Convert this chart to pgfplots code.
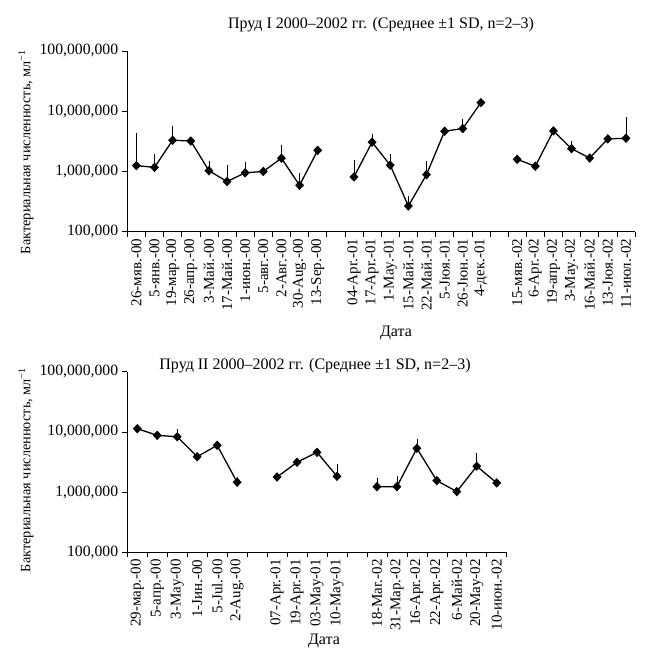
\documentclass[border=0pt]{standalone}
\usepackage{fontspec}
\setmainfont{Liberation Serif}
\usepackage{pgfplots}
\pgfplotsset{compat=1.18}
\pgfplotsset{
  every axis/.append style={
    scale only axis,
    yminorticks=false,
    axis lines=left, axis line style={-, line width=0.7bp},
    tick align=outside, major tick length=5bp,
    tick style={black, line width=0.6bp},
    xticklabel style={font=\fontsize{15bp}{17bp}\selectfont, rotate=90, anchor=east, inner sep=2bp},
    yticklabel style={font=\fontsize{15.7bp}{18bp}\selectfont, inner sep=4bp},
    clip=false,
  },
  ser/.style={black, line width=1.3bp, mark=diamond*, mark size=3.8bp, mark options={xscale=1.25}},
}
\begin{document}
\begin{tikzpicture}[x=1bp,y=1bp]
\useasboundingbox (0,0) rectangle (650,664);
% ---------- Top chart ----------
\begin{axis}[at={(127.3bp,432.3bp)}, anchor=south west, width=507.7bp, height=180.7bp,
  ymode=log, ymin=1e5, ymax=1e8,
  ytick={1e5,1e6,1e7,1e8},
  yticklabels={{100,000},{1,000,000},{10,000,000},{100,000,000}},
  xmin=-0.5, xmax=27.5,
  minor xtick={-0.5,0.5,...,27.5}, minor tick length=5bp,
  xtick={0,1,2,3,4,5,6,7,8,9,10,12,13,14,15,16,17,18,19,21,22,23,24,25,26,27},
  xtick style={draw=none},
  minor x tick style={draw=black},
  xticklabels={26-мяв.-00,5-янв.-00,19-мар.-00,26-апр.-00,3-Май.-00,17-Май.-00,1-июн.-00,5-авг.-00,2-Авг.-00,30-Aug.-00,13-Sep.-00,
    04-Apr.-01,17-Apr.-01,1-May.-01,15-Май.-01,22-Май.-01,5-Jюя.-01,26-Jюн.-01,4-дек.-01,
    15-мяв.-02,6-Apr.-02,19-апр.-02,3-May.-02,16-Май.-02,13-Jюя.-02,11-июл.-02},
]
\addplot[black, only marks, mark=none,
  error bars/.cd, y dir=plus, y explicit, error mark=-,
  error mark options={black, line width=0.6bp, mark size=3bp},
  error bar style={line width=0.6bp}]
 table[x=x, y=y, y error plus=ep] {
x y ep
0 1.25e6 2.65e6
1 1.17e6 0.57e6
2 3.3e6 1.8e6
4 1.03e6 0.32e6
5 6.8e5 0.44e6
6 9.5e5 0.35e6
8 1.66e6 0.79e6
9 5.9e5 0.25e6
12 8.1e5 0.57e6
13 3.06e6 0.74e6
14 1.27e6 0.45e6
15 2.67e5 0.83e5
16 8.85e5 0.435e6
18 5.14e6 1.42e6
24 2.39e6 0.47e6
27 3.56e6 3.54e6
};
\addplot[ser] table {
0 1.25e6
1 1.17e6
2 3.3e6
3 3.2e6
4 1.03e6
5 6.8e5
6 9.5e5
7 1.0e6
8 1.66e6
9 5.9e5
10 2.24e6
};
\addplot[ser] table {
12 8.1e5
13 3.06e6
14 1.27e6
15 2.67e5
16 8.85e5
17 4.66e6
18 5.14e6
19 1.39e7
};
\addplot[ser] table {
21 1.59e6
22 1.22e6
23 4.71e6
24 2.39e6
25 1.67e6
26 3.47e6
27 3.56e6
};
\end{axis}
% ---------- Bottom chart ----------
\begin{axis}[at={(127.3bp,111.7bp)}, anchor=south west, width=379.4bp, height=180.6bp,
  ymode=log, ymin=1e5, ymax=1e8,
  ytick={1e5,1e6,1e7,1e8},
  yticklabels={{100,000},{1,000,000},{10,000,000},{100,000,000}},
  xmin=-0.5, xmax=18.5,
  minor xtick={-0.5,0.5,...,18.5}, minor tick length=5bp,
  xtick={0,1,2,3,4,5,7,8,9,10,12,13,14,15,16,17,18},
  xtick style={draw=none},
  minor x tick style={draw=black},
  xticklabels={29-мар.-00,5-апр.-00,3-May-00,1-Jин.-00,5-Jul.-00,2-Aug.-00,
    07-Apr.-01,19-Apr.-01,03-May-01,10-May-01,
    18-Mar.-02,31-Map.-02,16-Apr.-02,22-Apr.-02,6-Май-02,20-May-02,10-июн.-02},
]
\addplot[black, only marks, mark=none,
  error bars/.cd, y dir=plus, y explicit, error mark=-,
  error mark options={black, line width=0.6bp, mark size=3bp},
  error bar style={line width=0.6bp}]
 table[x=x, y=y, y error plus=ep] {
x y ep
2 8.3e6 1.8e6
5 1.46e6 0.14e6
10 1.83e6 0.81e6
12 1.23e6 0.28e6
13 1.23e6 0.4e6
14 5.33e6 1.46e6
17 2.69e6 1.25e6
};
\addplot[ser] table {
0 1.13e7
1 8.77e6
2 8.3e6
3 3.87e6
4 5.98e6
5 1.46e6
};
\addplot[ser] table {
7 1.78e6
8 3.13e6
9 4.58e6
10 1.83e6
};
\addplot[ser] table {
12 1.23e6
13 1.23e6
14 5.33e6
15 1.55e6
16 1.02e6
17 2.69e6
18 1.42e6
};
\end{axis}
% ---------- Texts ----------
\begin{scope}[font=\fontsize{16bp}{18bp}\selectfont]
\node at (381,639) {Пруд I 2000–2002 гг. (Среднее ±1 SD, n=2–3)};
\node at (315,298) {Пруд II 2000–2002 гг. (Среднее ±1 SD, n=2–3)};
\node at (396,331) {Дата};
\node at (324,23) {Дата};
\end{scope}
\begin{scope}[font=\fontsize{14.3bp}{16bp}\selectfont]
\node[rotate=90] at (26,512) {Бактериальная численность, мл\textsuperscript{−1}};
\node[rotate=90] at (26,194) {Бактериальная численность, мл\textsuperscript{−1}};
\end{scope}
\end{tikzpicture}
\end{document}
